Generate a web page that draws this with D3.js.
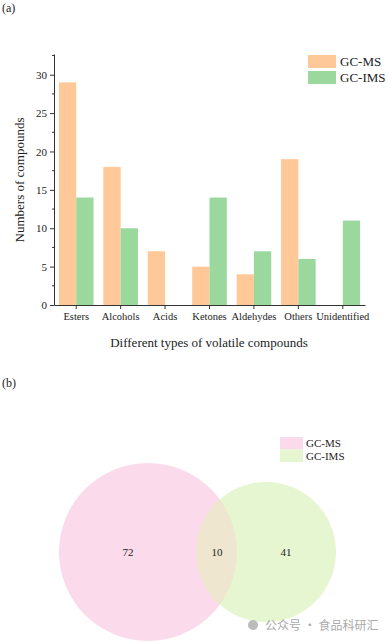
<!DOCTYPE html>
<html><head><meta charset="utf-8">
<script src="https://cdn.jsdelivr.net/npm/d3@7"></script>
<style>body{margin:0;background:#fff}svg{display:block;font-family:"Liberation Serif","Times New Roman",serif}</style>
</head><body>
<script>
const categories = ["Esters","Alcohols","Acids","Ketones","Aldehydes","Others","Unidentified"];
const gcms = [29,18,7,5,4,19,0];
const gcims = [14,10,0,14,7,6,11];
const seriesNames = ["GC-MS","GC-IMS"];
const yTicks = [0,5,10,15,20,25,30];
const vennLabels = ["72","10","41"];
const vennSets = ["GC-MS","GC-IMS"];

const W=388,H=642;
const svg=d3.select("body").append("svg").attr("width",W).attr("height",H);
const colors=["#FFC898","#9BD89E"];

svg.append("text").attr("x",2).attr("y",12).attr("font-size",12).attr("fill","#222").text("(a)");

const x=d3.scaleBand().domain(categories).range([54,365]).padding(0);
const y=d3.scaleLinear().domain([0,32.7]).range([305,54]);
const bw=17.3;
const g=svg.append("g");
categories.forEach((c,i)=>{
  [gcms[i],gcims[i]].forEach((v,j)=>{
    if(v<=0) return;
    const cx=x(c)+x.bandwidth()/2;
    g.append("rect").attr("x",j===0?cx-bw:cx).attr("width",bw)
     .attr("y",y(v)).attr("height",y(0)-y(v)).attr("fill",colors[j]);
  });
});
// y axis
const ya=svg.append("g").attr("transform","translate(54,0)")
  .call(d3.axisLeft(y).tickValues(yTicks).tickSize(4).tickPadding(3).tickSizeOuter(0));
ya.select(".domain").attr("stroke","#333");
ya.selectAll(".tick line").attr("stroke","#333");
ya.selectAll("text").attr("font-size",11).attr("font-family","Liberation Serif").attr("fill","#222");
[2.5,7.5,12.5,17.5,22.5,27.5,32.5].forEach(v=>{
  svg.append("line").attr("x1",52).attr("x2",54).attr("y1",y(v)).attr("y2",y(v)).attr("stroke","#333");
});
const xa=svg.append("g").attr("transform","translate(0,305)")
  .call(d3.axisBottom(x).tickSize(4).tickPadding(4).tickSizeOuter(0));
xa.select(".domain").attr("stroke","#333");
xa.selectAll(".tick line").attr("stroke","#333");
xa.selectAll("text").attr("font-size",10.5).attr("font-family","Liberation Serif").attr("fill","#222");

svg.append("text").attr("x",209).attr("y",347).attr("text-anchor","middle").attr("font-size",13).attr("fill","#222")
  .text("Different types of volatile compounds");
svg.append("text").attr("transform","translate(24,180) rotate(-90)").attr("text-anchor","middle")
  .attr("font-size",13).attr("fill","#222").text("Numbers of compounds");

// legend a
seriesNames.forEach((n,i)=>{
  svg.append("rect").attr("x",308).attr("y",55+i*16).attr("width",28).attr("height",13).attr("fill",colors[i]);
  svg.append("text").attr("x",340).attr("y",66+i*16).attr("font-size",13).attr("fill","#222").text(n);
});

// Venn (b)
svg.append("text").attr("x",2).attr("y",387).attr("font-size",12).attr("fill","#222").text("(b)");
const vcol=["#FBDAEC","#E6F6D0"];
const circles=[{cx:148,cy:552,r:89},{cx:266,cy:552,r:70}];
const defs=svg.append("defs");
defs.append("clipPath").attr("id","clipA").append("circle").attr("cx",circles[0].cx).attr("cy",circles[0].cy).attr("r",circles[0].r);
circles.forEach((c,i)=>svg.append("circle").attr("cx",c.cx).attr("cy",c.cy).attr("r",c.r).attr("fill",vcol[i]));
svg.append("circle").attr("cx",circles[1].cx).attr("cy",circles[1].cy).attr("r",circles[1].r)
  .attr("fill","#EFE6CF").attr("clip-path","url(#clipA)");
const lx=[128,217,286];
vennLabels.forEach((t,i)=>svg.append("text").attr("x",lx[i]).attr("y",556).attr("text-anchor","middle")
  .attr("font-size",11).attr("fill","#222").text(t));
vennSets.forEach((n,i)=>{
  svg.append("rect").attr("x",280).attr("y",437+i*12.5).attr("width",23).attr("height",12.5).attr("fill",vcol[i]);
  svg.append("text").attr("x",306).attr("y",447+i*13).attr("font-size",11).attr("fill","#222").text(n);
});
// watermark
svg.append("text").attr("x",265).attr("y",630).attr("font-size",12)
  .attr("font-family","Noto Sans CJK SC").attr("fill","#aaa").text("公众号 · 食品科研汇");
svg.append("circle").attr("cx",253).attr("cy",625).attr("r",5).attr("fill","#bbb");
</script>
</body></html>
